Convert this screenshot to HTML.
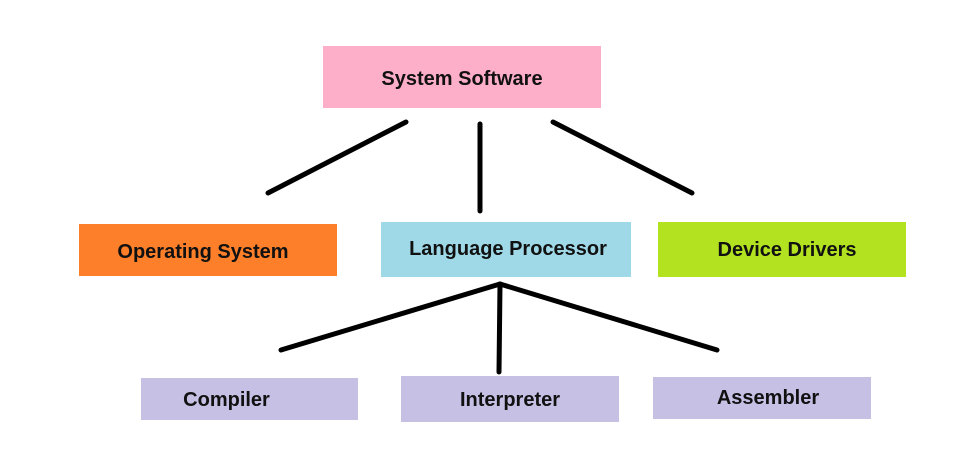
<!DOCTYPE html>
<html><head><style>
body{margin:0;width:963px;height:470px;background:#fff;position:relative;overflow:hidden;font-family:"Liberation Sans",sans-serif;}
.b{position:absolute;display:flex;align-items:center;justify-content:center;font-weight:bold;font-size:20px;color:#111;box-sizing:border-box;}
svg{position:absolute;left:0;top:0}
</style></head><body>
<div class="b" style="left:323px;top:46px;width:278px;height:62px;background:#fdaec9;padding-top:5px">System Software</div>
<div class="b" style="left:79px;top:224px;width:258px;height:52px;background:#fe7f2a;padding-top:4px;padding-right:10px">Operating System</div>
<div class="b" style="left:381px;top:222px;width:250px;height:55px;background:#9fd9e8;padding-left:4px">Language Processor</div>
<div class="b" style="left:658px;top:222px;width:248px;height:55px;background:#b3e320;padding-top:2px;padding-left:10px">Device Drivers</div>
<div class="b" style="left:141px;top:378px;width:217px;height:42px;background:#c7c0e5;padding-top:3px;padding-right:46px">Compiler</div>
<div class="b" style="left:401px;top:376px;width:218px;height:46px;background:#c7c0e5;padding-top:2px">Interpreter</div>
<div class="b" style="left:653px;top:377px;width:218px;height:42px;background:#c7c0e5;padding-left:12px">Assembler</div>
<svg width="963" height="470"><g stroke="#000" stroke-width="5" stroke-linecap="round">
<line x1="406" y1="122" x2="268" y2="193"/>
<line x1="480" y1="124" x2="480" y2="211"/>
<line x1="553" y1="122" x2="692" y2="193"/>
<line x1="500" y1="284" x2="281" y2="350"/>
<line x1="500" y1="284" x2="499" y2="372"/>
<line x1="500" y1="284" x2="717" y2="350"/>
</g></svg>
</body></html>
